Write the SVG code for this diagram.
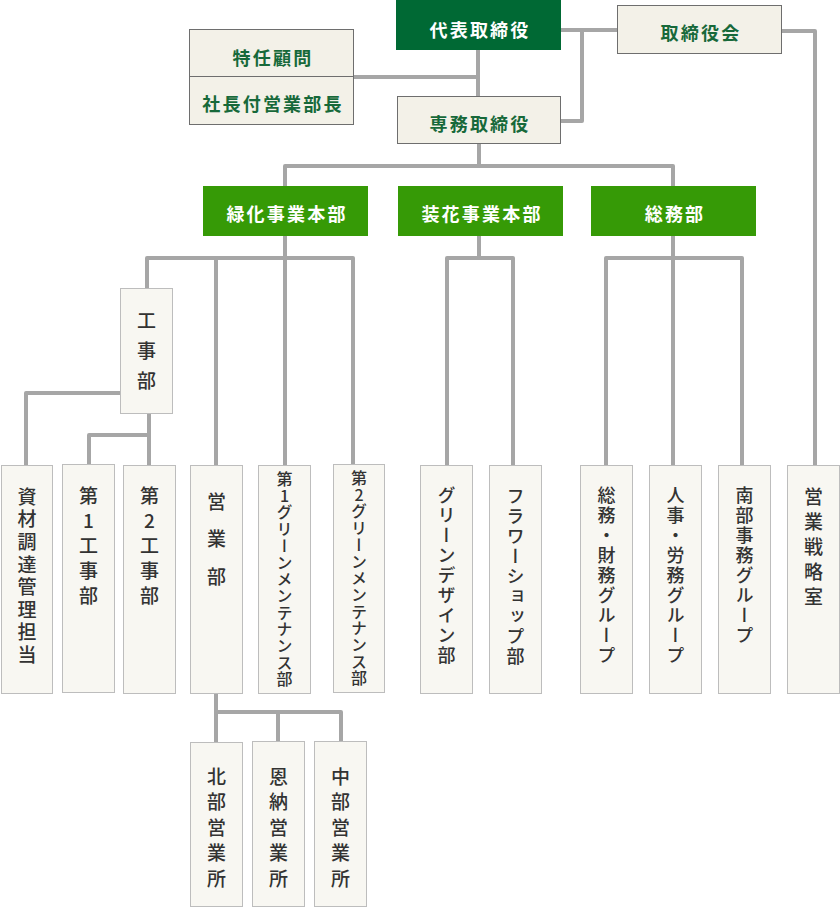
<svg xmlns="http://www.w3.org/2000/svg" width="840" height="908" viewBox="0 0 840 908">
<style>
.ln{fill:none;stroke:#a6a6a6;stroke-width:4;stroke-linejoin:round}
.top{fill:#f3f1e8;stroke:#6e6e6e;stroke-width:1}
.dk{fill:#006934}
.gr{fill:#369a06}
.bx{fill:#f8f7f2;stroke:#bdbdbd;stroke-width:1}
.tg{font-family:"Noto Sans CJK JP","Noto Sans",sans-serif;font-size:18px;font-weight:bold;fill:#17693a;letter-spacing:2.2px;text-anchor:middle;dominant-baseline:central}
.tw{font-family:"Noto Sans CJK JP","Noto Sans",sans-serif;font-size:18px;font-weight:bold;fill:#ffffff;letter-spacing:2.2px;text-anchor:middle;dominant-baseline:central}
.v{font-family:"Noto Sans CJK JP","Noto Sans",sans-serif;font-size:19px;font-weight:500;fill:#333333;writing-mode:vertical-rl;text-orientation:upright;text-anchor:start}
.s18{font-size:18px;letter-spacing:2px}
.s16{font-size:16px;letter-spacing:0.7px}
</style>
<g id="connectors">
<path class="ln" d="M478 50V96"/>
<path class="ln" d="M354 77H478"/>
<path class="ln" d="M561 30H617"/>
<path class="ln" d="M582 30V121H561"/>
<path class="ln" d="M782 31H815V465"/>
<path class="ln" d="M479 144V166"/>
<path class="ln" d="M285 186V166H673V186"/>
<path class="ln" d="M285 236V465"/>
<path class="ln" d="M147 288V258H353V465"/>
<path class="ln" d="M216 258V465"/>
<path class="ln" d="M120 393H26V465"/>
<path class="ln" d="M149 414V465"/>
<path class="ln" d="M149 435H89V464"/>
<path class="ln" d="M479 236V258"/>
<path class="ln" d="M447 465V258H513V465"/>
<path class="ln" d="M673 236V465"/>
<path class="ln" d="M606 465V258H742V465"/>
<path class="ln" d="M216 694V742"/>
<path class="ln" d="M216 712H341V741"/>
<path class="ln" d="M278 712V741"/>
</g>
<g id="n-daihyo"><rect class="dk" x="396" y="0" width="165" height="50"/><text class="tw" x="480" y="29">代表取締役</text></g>
<g id="n-torishimariyakukai"><rect class="top" x="617.5" y="5.5" width="164" height="48"/><text class="tg" x="701" y="32">取締役会</text></g>
<g id="n-tokunin"><rect class="top" x="189.5" y="29.5" width="164" height="95"/><line x1="189.5" y1="76.5" x2="353.5" y2="76.5" stroke="#6e6e6e" stroke-width="1"/><text class="tg" x="273" y="57">特任顧問</text><text class="tg" x="273" y="103">社長付営業部長</text></g>
<g id="n-senmu"><rect class="top" x="397.5" y="96.5" width="163" height="47"/><text class="tg" x="480" y="123">専務取締役</text></g>
<g id="n-ryokka"><rect class="gr" x="203" y="186" width="165" height="50"/><text class="tw" x="287" y="213">緑化事業本部</text></g>
<g id="n-souka"><rect class="gr" x="398" y="186" width="165" height="50"/><text class="tw" x="482" y="213">装花事業本部</text></g>
<g id="n-soumu"><rect class="gr" x="591" y="186" width="165" height="50"/><text class="tw" x="675" y="213">総務部</text></g>
<g id="n-koujibu"><rect class="bx" x="120.5" y="288.5" width="52" height="125"/><text class="v" x="146.5" y="311" style="letter-spacing:11px">工事部</text></g>
<g id="n-shizai"><rect class="bx" x="1.5" y="465.5" width="51" height="228"/><text class="v" x="27" y="487" style="letter-spacing:3.6px">資材調達管理担当</text></g>
<g id="n-dai1kouji"><rect class="bx" x="62.5" y="464.5" width="52" height="228"/><text class="v" x="88.5" y="486" style="letter-spacing:6px">第1工事部</text></g>
<g id="n-dai2kouji"><rect class="bx" x="123.5" y="465.5" width="52" height="228"/><text class="v" x="149.5" y="486" style="letter-spacing:6px">第2工事部</text></g>
<g id="n-eigyoubu"><rect class="bx" x="190.5" y="465.5" width="52" height="228"/><text class="v" x="216.5" y="492" style="letter-spacing:18.5px">営業部</text></g>
<g id="n-dai1green"><rect class="bx" x="258.5" y="465.5" width="52" height="228"/><text class="v s16" x="284.5" y="471">第1グリーンメンテナンス部</text></g>
<g id="n-dai2green"><rect class="bx" x="333.5" y="464.5" width="51" height="228"/><text class="v s16" x="359" y="470">第2グリーンメンテナンス部</text></g>
<g id="n-greendesign"><rect class="bx" x="420.5" y="465.5" width="52" height="228"/><text class="v s18" x="446.5" y="486">グリーンデザイン部</text></g>
<g id="n-flower"><rect class="bx" x="489.5" y="465.5" width="52" height="228"/><text class="v s18" x="515.5" y="487">フラワーショップ部</text></g>
<g id="n-soumuzaimu"><rect class="bx" x="580.5" y="465.5" width="52" height="228"/><text class="v s18" x="606.5" y="486">総務・財務グループ</text></g>
<g id="n-jinji"><rect class="bx" x="649.5" y="465.5" width="52" height="228"/><text class="v s18" x="675.5" y="486">人事・労務グループ</text></g>
<g id="n-nanbu"><rect class="bx" x="718.5" y="465.5" width="52" height="228"/><text class="v s18" x="744.5" y="486">南部事務グループ</text></g>
<g id="n-senryaku"><rect class="bx" x="787.5" y="465.5" width="52" height="228"/><text class="v" x="813.5" y="487" style="letter-spacing:6px">営業戦略室</text></g>
<g id="n-hokubu"><rect class="bx" x="190.5" y="742.5" width="52" height="164"/><text class="v" x="216.5" y="767" style="letter-spacing:6.5px">北部営業所</text></g>
<g id="n-onna"><rect class="bx" x="252.5" y="741.5" width="52" height="165"/><text class="v" x="278.5" y="767" style="letter-spacing:6.5px">恩納営業所</text></g>
<g id="n-chubu"><rect class="bx" x="314.5" y="741.5" width="52" height="165"/><text class="v" x="340.5" y="767" style="letter-spacing:6.5px">中部営業所</text></g>
</svg>
